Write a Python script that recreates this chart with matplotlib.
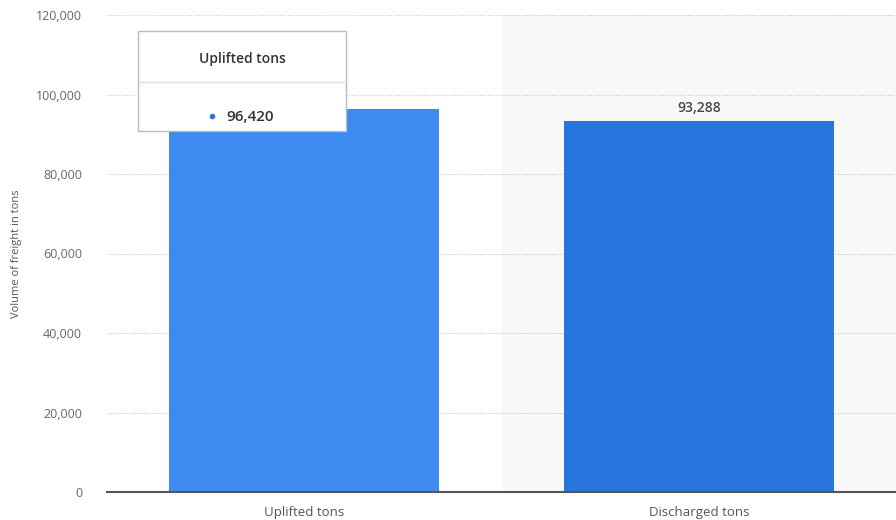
import numpy as np
import matplotlib.pyplot as plt
from matplotlib.patches import Rectangle

plt.rcParams['font.family'] = ['Open Sans', 'DejaVu Sans']

# data
categories = ["Uplifted tons", "Discharged tons"]
values = [96420, 93288]
bar_colors = ["#3d8af0", "#2876dd"]
yticks = [0, 20000, 40000, 60000, 80000, 100000, 120000]

fig = plt.figure(figsize=(8.96, 5.2), dpi=100)
ax = fig.add_axes([107/896, 28/520, 789/896, 477/520])

x = np.arange(len(categories))
# hover band on the second category
ax.axvspan(0.5, 1.5, color="#f8f8f8", zorder=0)

bars = ax.bar(x, values, width=0.684, color=bar_colors, zorder=2)
for xi, v in zip(x, values):
    ax.text(xi, v + 1500, f"{v:,}", ha="center", va="bottom",
            fontsize=10, fontweight="semibold", color="#444444", zorder=3)

ax.set_xlim(-0.5, 1.5)
ax.set_ylim(0, 120000)
ax.set_yticks(yticks)
ax.set_yticklabels([f"{t:,}" for t in yticks])
ax.set_xticks(x)
ax.set_xticklabels(categories)
ax.tick_params(axis="y", length=0, pad=18, labelsize=9, labelcolor="#666666")
ax.tick_params(axis="x", length=0, pad=10, labelsize=9.5, labelcolor="#555555")
ax.grid(axis="y", linestyle=(0, (1, 1.5)), color="#c8c8c8", linewidth=0.8, zorder=1)
ax.set_axisbelow(True)
for s in ["top", "right", "left"]:
    ax.spines[s].set_visible(False)
ax.spines["bottom"].set_color("#555555")
ax.spines["bottom"].set_linewidth(1.5)
ax.spines["bottom"].set_zorder(4)
ax.set_ylabel("Volume of freight in tons", fontsize=8, color="#555555", labelpad=10)

# tooltip
tx, ty, tw, th = 0.0393, 0.757, 0.2636, 0.2096
ax.add_patch(Rectangle((tx, ty), tw, th, transform=ax.transAxes, facecolor="white",
                       edgecolor="#bbbbbb", linewidth=1, zorder=10, clip_on=False))
ax.plot([tx, tx + tw], [0.8595, 0.8595], transform=ax.transAxes, color="#dddddd",
        linewidth=1, zorder=11, clip_on=False)
ax.text(tx + tw / 2, 0.9078, categories[0], transform=ax.transAxes, ha="center", va="center",
        fontsize=10, fontweight="semibold", color="#333333", zorder=12)
ax.text(0.1812, 0.7862, f"{values[0]:,}", transform=ax.transAxes, ha="center",
        va="center", fontsize=11, fontweight="semibold", color="#333333", zorder=12)
ax.plot([0.133], [0.7880], marker="o", markersize=3, color=bar_colors[1],
        transform=ax.transAxes, zorder=12, clip_on=False)

fig.savefig("out.png", dpi=100)
